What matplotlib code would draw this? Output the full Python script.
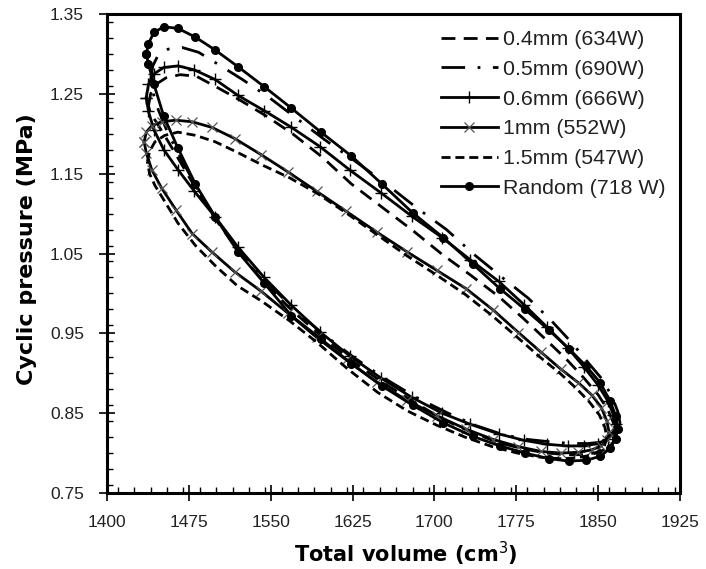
import matplotlib
matplotlib.use('Agg')
import matplotlib.pyplot as plt
from matplotlib.ticker import MultipleLocator, FormatStrFormatter

plt.rcParams['lines.scale_dashes'] = False
plt.rcParams['font.family'] = ['Liberation Sans', 'DejaVu Sans']

# ---------------- data ----------------
labels = ['0.4mm (634W)', '0.5mm (690W)', '0.6mm (666W)', '1mm (552W)', '1.5mm (547W)', 'Random (718 W)']

# 0.4 mm
vol_04 = [1438, 1440, 1445, 1454, 1467, 1482, 1501, 1522, 1545, 1570, 1597, 1624, 1652, 1680, 1707, 1734, 1759, 1782, 1803, 1822, 1837, 1850, 1859, 1864, 1866,
          1864, 1859, 1850, 1837, 1822, 1803, 1782, 1759, 1734, 1707, 1680, 1652, 1624, 1597, 1570, 1545, 1522, 1501, 1482, 1467, 1454, 1445, 1440, 1438]
p_04 = [1.235, 1.250, 1.262, 1.270, 1.274, 1.272, 1.258, 1.242, 1.223, 1.200, 1.171, 1.137, 1.108, 1.079, 1.049, 1.022, 0.996, 0.968, 0.941, 0.916, 0.894, 0.873, 0.854, 0.838, 0.826,
        0.814, 0.806, 0.801, 0.798, 0.798, 0.800, 0.805, 0.813, 0.826, 0.843, 0.865, 0.889, 0.916, 0.946, 0.978, 1.012, 1.050, 1.090, 1.130, 1.165, 1.195, 1.215, 1.225, 1.235]

# 0.5 mm
vol_05 = [1440, 1442, 1447, 1456, 1469, 1484, 1503, 1524, 1548, 1573, 1599, 1627, 1655, 1683, 1711, 1737, 1763, 1786, 1807, 1826, 1841, 1854, 1863, 1868, 1870,
          1868, 1863, 1854, 1841, 1826, 1807, 1786, 1763, 1737, 1711, 1683, 1655, 1627, 1599, 1573, 1548, 1524, 1503, 1484, 1469, 1456, 1447, 1442, 1440]
p_05 = [1.268, 1.285, 1.299, 1.306, 1.308, 1.302, 1.286, 1.268, 1.246, 1.220, 1.193, 1.166, 1.138, 1.108, 1.080, 1.048, 1.019, 0.994, 0.966, 0.938, 0.913, 0.892, 0.870, 0.852, 0.838,
        0.826, 0.818, 0.814, 0.812, 0.812, 0.814, 0.817, 0.823, 0.835, 0.851, 0.870, 0.893, 0.919, 0.948, 0.978, 1.012, 1.048, 1.088, 1.128, 1.166, 1.200, 1.230, 1.252, 1.268]

# 0.6 mm
vol_06 = [1436, 1438, 1443, 1452, 1465, 1480, 1499, 1520, 1544, 1569, 1595, 1623, 1651, 1679, 1707, 1733, 1759, 1782, 1803, 1822, 1837, 1850, 1859, 1864, 1866,
          1864, 1859, 1850, 1837, 1822, 1803, 1782, 1759, 1733, 1707, 1679, 1651, 1623, 1595, 1569, 1544, 1520, 1499, 1480, 1465, 1452, 1443, 1438, 1436]
p_06 = [1.245, 1.262, 1.275, 1.283, 1.285, 1.280, 1.268, 1.248, 1.229, 1.208, 1.184, 1.154, 1.126, 1.097, 1.070, 1.042, 1.015, 0.986, 0.958, 0.932, 0.908, 0.885, 0.865, 0.848, 0.836,
        0.827, 0.818, 0.812, 0.809, 0.809, 0.811, 0.816, 0.824, 0.836, 0.850, 0.870, 0.894, 0.921, 0.952, 0.985, 1.020, 1.058, 1.096, 1.128, 1.155, 1.180, 1.205, 1.228, 1.245]

# 1 mm
vol_1 = [1434, 1436, 1441, 1450, 1463, 1478, 1496, 1517, 1541, 1566, 1592, 1619, 1647, 1675, 1702, 1729, 1754, 1777, 1798, 1816, 1832, 1844, 1853, 1858, 1860,
         1858, 1853, 1844, 1832, 1816, 1798, 1777, 1754, 1729, 1702, 1675, 1647, 1619, 1592, 1566, 1541, 1517, 1496, 1478, 1463, 1450, 1441, 1436, 1434]
p_1 = [1.190, 1.202, 1.210, 1.215, 1.217, 1.215, 1.208, 1.194, 1.174, 1.152, 1.128, 1.103, 1.077, 1.052, 1.029, 1.006, 0.979, 0.951, 0.926, 0.905, 0.888, 0.873, 0.857, 0.840, 0.826,
       0.816, 0.809, 0.804, 0.801, 0.800, 0.802, 0.808, 0.817, 0.830, 0.847, 0.866, 0.889, 0.917, 0.945, 0.975, 1.003, 1.027, 1.052, 1.075, 1.105, 1.132, 1.155, 1.176, 1.190]

# 1.5 mm
vol_15 = [1437, 1439, 1444, 1453, 1465, 1481, 1499, 1519, 1542, 1567, 1593, 1620, 1648, 1675, 1702, 1728, 1753, 1776, 1796, 1815, 1830, 1842, 1851, 1856, 1858,
          1856, 1851, 1842, 1830, 1815, 1796, 1776, 1753, 1728, 1702, 1675, 1648, 1620, 1593, 1567, 1542, 1519, 1499, 1481, 1465, 1453, 1444, 1439, 1437]
p_15 = [1.165, 1.178, 1.190, 1.198, 1.202, 1.198, 1.190, 1.177, 1.161, 1.145, 1.125, 1.100, 1.073, 1.047, 1.023, 0.999, 0.972, 0.945, 0.921, 0.900, 0.881, 0.864, 0.848, 0.833, 0.820,
        0.810, 0.802, 0.797, 0.794, 0.793, 0.795, 0.800, 0.808, 0.820, 0.835, 0.853, 0.876, 0.906, 0.938, 0.966, 0.990, 1.010, 1.035, 1.060, 1.088, 1.115, 1.135, 1.150, 1.165]

# Random
vol_rand = [1436, 1438, 1443, 1452, 1465, 1481, 1499, 1520, 1544, 1569, 1596, 1624, 1652, 1680, 1708, 1735, 1760, 1783, 1805, 1823, 1839, 1852, 1861, 1866, 1868,
            1866, 1861, 1852, 1839, 1823, 1805, 1783, 1760, 1735, 1708, 1680, 1652, 1624, 1596, 1569, 1544, 1520, 1499, 1481, 1465, 1452, 1443, 1438, 1436]
p_rand = [1.300, 1.313, 1.327, 1.334, 1.332, 1.321, 1.305, 1.284, 1.259, 1.232, 1.202, 1.172, 1.137, 1.101, 1.070, 1.037, 1.006, 0.980, 0.954, 0.931, 0.909, 0.888, 0.865, 0.847, 0.830,
          0.818, 0.806, 0.796, 0.791, 0.790, 0.793, 0.800, 0.809, 0.821, 0.838, 0.860, 0.884, 0.912, 0.943, 0.972, 1.013, 1.052, 1.096, 1.137, 1.182, 1.222, 1.262, 1.287, 1.300]

x_ticks = [1400, 1475, 1550, 1625, 1700, 1775, 1850, 1925]
y_ticks = [0.75, 0.85, 0.95, 1.05, 1.15, 1.25, 1.35]

# ---------------- figure ----------------
fig = plt.figure(figsize=(7.06, 5.69), dpi=100)
ax = fig.add_axes([107 / 706, 1 - 493 / 569, 573 / 706, 479 / 569])

lw = 2.0
ax.plot(vol_04, p_04, color='black', lw=lw, dashes=(10, 6), dash_capstyle='butt', label=labels[0])
ax.plot(vol_05, p_05, color='black', lw=lw, dashes=(17, 9, 2, 9), dash_capstyle='butt', label=labels[1])
ax.plot(vol_06, p_06, color='black', lw=lw, marker='+', markersize=9, markeredgewidth=1.0, label=labels[2])
ax.plot(vol_1, p_1, color='black', lw=lw, marker='x', markersize=7, markeredgewidth=0.9,
        markeredgecolor='#555555', label=labels[3])
ax.plot(vol_15, p_15, color='black', lw=lw, dashes=(6.5, 3.5), dash_capstyle='butt', label=labels[4])
ax.plot(vol_rand, p_rand, color='black', lw=lw, marker='o', markersize=5.5, label=labels[5])

ax.set_xlim(1400, 1925)
ax.set_ylim(0.75, 1.35)
ax.set_xticks(x_ticks)
ax.set_yticks(y_ticks)
ax.xaxis.set_minor_locator(MultipleLocator(15))
ax.yaxis.set_minor_locator(MultipleLocator(0.02))
ax.yaxis.set_major_formatter(FormatStrFormatter('%.2f'))

for s in ax.spines.values():
    s.set_linewidth(2.2)
ax.tick_params(which='major', direction='inout', length=11, width=1.2, labelsize=12.5, color='black')
ax.tick_params(axis='y', which='major', pad=11)
ax.tick_params(axis='x', which='major', pad=10)
ax.tick_params(which='minor', direction='in', length=4.5, width=1.0)
ax.tick_params(top=False, right=False, which='both')
for t in ax.get_xticklabels() + ax.get_yticklabels():
    t.set_color('#222222')

ax.set_xlabel('Total volume (cm$^{3}$)', fontsize=15, fontweight='bold', family='DejaVu Sans')
ax.xaxis.set_label_coords(0.522, -0.098)
ax.set_ylabel('Cyclic pressure (MPa)', fontsize=16, fontweight='bold', family='DejaVu Sans')
ax.yaxis.set_label_coords(-0.123, 0.51)

leg = ax.legend(loc='upper right', bbox_to_anchor=(0.99, 0.984), frameon=False,
                prop={'family': 'Liberation Sans', 'size': 15.4}, handlelength=2.65,
                handletextpad=0.25, labelspacing=0.5, borderaxespad=0)
for t in leg.get_texts():
    t.set_color('#222222')

fig.savefig('out.png', dpi=100)
